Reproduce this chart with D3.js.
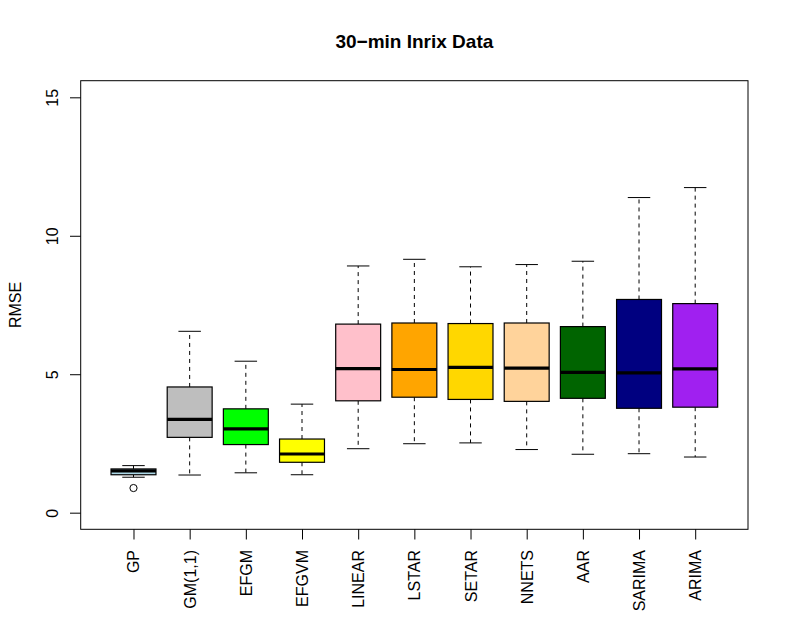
<!DOCTYPE html>
<html lang="en">
<head>
    <meta charset="UTF-8">
    <title>30-min Inrix Data</title>
    <script src="https://d3js.org/d3.v7.min.js"></script>
    <style>
        body { margin: 0; background: #fff; }
        svg { display: block; font-family: "Liberation Sans", Arial, Helvetica, sans-serif; }
        .axis text { font-size: 16px; fill: #000; }
        .axis line, .axis path { stroke: #000; }
        .title { font-size: 19px; font-weight: bold; }
        .ylabel { font-size: 16px; }
    </style>
</head>
<body>
    <svg width="789" height="630"></svg>

    <script>
        // Model names along the x axis
        const categories = ["GP", "GM(1,1)", "EFGM", "EFGVM", "LINEAR", "LSTAR", "SETAR", "NNETS", "AAR", "SARIMA", "ARIMA"];

        // Boxplot statistics (RMSE)
        const whiskerLow  = [1.28, 1.36, 1.44, 1.37, 2.31, 2.49, 2.52, 2.28, 2.11, 2.13, 2.01];
        const q1          = [1.37, 2.72, 2.46, 1.82, 4.04, 4.17, 4.09, 4.02, 4.13, 3.77, 3.81];
        const medians     = [1.51, 3.37, 3.03, 2.12, 5.20, 5.17, 5.25, 5.22, 5.07, 5.05, 5.19];
        const q3          = [1.58, 4.54, 3.75, 2.66, 6.81, 6.85, 6.83, 6.85, 6.72, 7.70, 7.55];
        const whiskerHigh = [1.70, 6.55, 5.47, 3.92, 8.91, 9.15, 8.88, 8.96, 9.08, 11.38, 11.74];
        const outliers    = [[0.89], [], [], [], [], [], [], [], [], [], []];

        const yTicks = [0, 5, 10, 15];

        // Box fill colours (R colour names)
        const fills = ["#ADD8E6", "#BEBEBE", "#00FF00", "#FFFF00", "#FFC0CB", "#FFA500",
                       "#FFD700", "#FFD39B", "#006400", "#000080", "#A020F0"];

        const data = categories.map((name, i) => ({
            name, idx: i + 1,
            lo: whiskerLow[i], q1: q1[i], med: medians[i], q3: q3[i], hi: whiskerHigh[i],
            out: outliers[i], fill: fills[i]
        }));

        // Plot region in pixels
        const plotLeft = 80.7, plotRight = 748, plotTop = 80.7, plotBottom = 529.3;

        const svg = d3.select("svg");

        // R style ranges: 4% padding around limits
        const x = d3.scaleLinear().domain([0.06, 11.94]).range([plotLeft, plotRight]);
        const y = d3.scaleLinear().domain([-0.6, 15.6]).range([plotBottom, plotTop]);

        const boxW = x(0.4) - x(0);     // half of box width (boxwex 0.8)
        const capW = x(0.2) - x(0);     // half of staple width

        // Title
        svg.append("text")
            .attr("class", "title")
            .attr("x", (plotLeft + plotRight) / 2)
            .attr("y", 48)
            .attr("text-anchor", "middle")
            .text("30\u2212min Inrix Data");

        // Y axis
        const yAxis = svg.append("g")
            .attr("class", "axis")
            .attr("transform", `translate(${plotLeft},0)`)
            .call(d3.axisLeft(y).tickValues(yTicks).tickSize(10.7).tickSizeOuter(0));
        yAxis.select(".domain").remove();
        yAxis.selectAll(".tick text")
            .attr("transform", "rotate(-90)")
            .attr("x", 0)
            .attr("y", -23.2)
            .attr("dy", 0)
            .attr("text-anchor", "middle");

        // Y axis title
        svg.append("text")
            .attr("class", "ylabel")
            .attr("transform", `translate(20.5,${(plotTop + plotBottom) / 2}) rotate(-90)`)
            .attr("text-anchor", "middle")
            .text("RMSE");

        // X axis with rotated model names
        const xAxis = svg.append("g")
            .attr("class", "axis")
            .attr("transform", `translate(0,${plotBottom})`)
            .call(d3.axisBottom(x).tickValues(data.map(d => d.idx))
                .tickFormat(i => categories[i - 1]).tickSize(10.2).tickSizeOuter(0));
        xAxis.select(".domain").remove();
        xAxis.selectAll(".tick text")
            .attr("transform", "rotate(-90)")
            .attr("x", -20.7)
            .attr("y", 5.5)
            .attr("dy", 0)
            .attr("text-anchor", "end");

        // Boxes
        const g = svg.selectAll(".box")
            .data(data)
            .enter().append("g")
            .attr("class", "box");

        // Dashed whiskers
        g.append("line")
            .attr("x1", d => x(d.idx)).attr("x2", d => x(d.idx))
            .attr("y1", d => y(d.q3)).attr("y2", d => y(d.hi))
            .attr("stroke", "#000").attr("stroke-dasharray", "4,4");
        g.append("line")
            .attr("x1", d => x(d.idx)).attr("x2", d => x(d.idx))
            .attr("y1", d => y(d.q1)).attr("y2", d => y(d.lo))
            .attr("stroke", "#000").attr("stroke-dasharray", "4,4");

        // Staples
        g.append("line")
            .attr("x1", d => x(d.idx) - capW).attr("x2", d => x(d.idx) + capW)
            .attr("y1", d => y(d.hi)).attr("y2", d => y(d.hi))
            .attr("stroke", "#000");
        g.append("line")
            .attr("x1", d => x(d.idx) - capW).attr("x2", d => x(d.idx) + capW)
            .attr("y1", d => y(d.lo)).attr("y2", d => y(d.lo))
            .attr("stroke", "#000");

        // Box body
        g.append("rect")
            .attr("x", d => x(d.idx) - boxW)
            .attr("width", 2 * boxW)
            .attr("y", d => y(d.q3))
            .attr("height", d => y(d.q1) - y(d.q3))
            .attr("fill", d => d.fill)
            .attr("stroke", "#000")
            .attr("stroke-width", 1.2);

        // Median
        g.append("line")
            .attr("x1", d => x(d.idx) - boxW).attr("x2", d => x(d.idx) + boxW)
            .attr("y1", d => y(d.med)).attr("y2", d => y(d.med))
            .attr("stroke", "#000").attr("stroke-width", 3.2);

        // Outliers
        g.selectAll(".out")
            .data(d => d.out.map(v => ({ idx: d.idx, v })))
            .enter().append("circle")
            .attr("class", "out")
            .attr("cx", d => x(d.idx))
            .attr("cy", d => y(d.v))
            .attr("r", 3.6)
            .attr("fill", "none")
            .attr("stroke", "#000");

        // Plot frame
        svg.append("rect")
            .attr("x", plotLeft).attr("y", plotTop)
            .attr("width", plotRight - plotLeft).attr("height", plotBottom - plotTop)
            .attr("fill", "none")
            .attr("stroke", "#000");
    </script>
</body>
</html>
